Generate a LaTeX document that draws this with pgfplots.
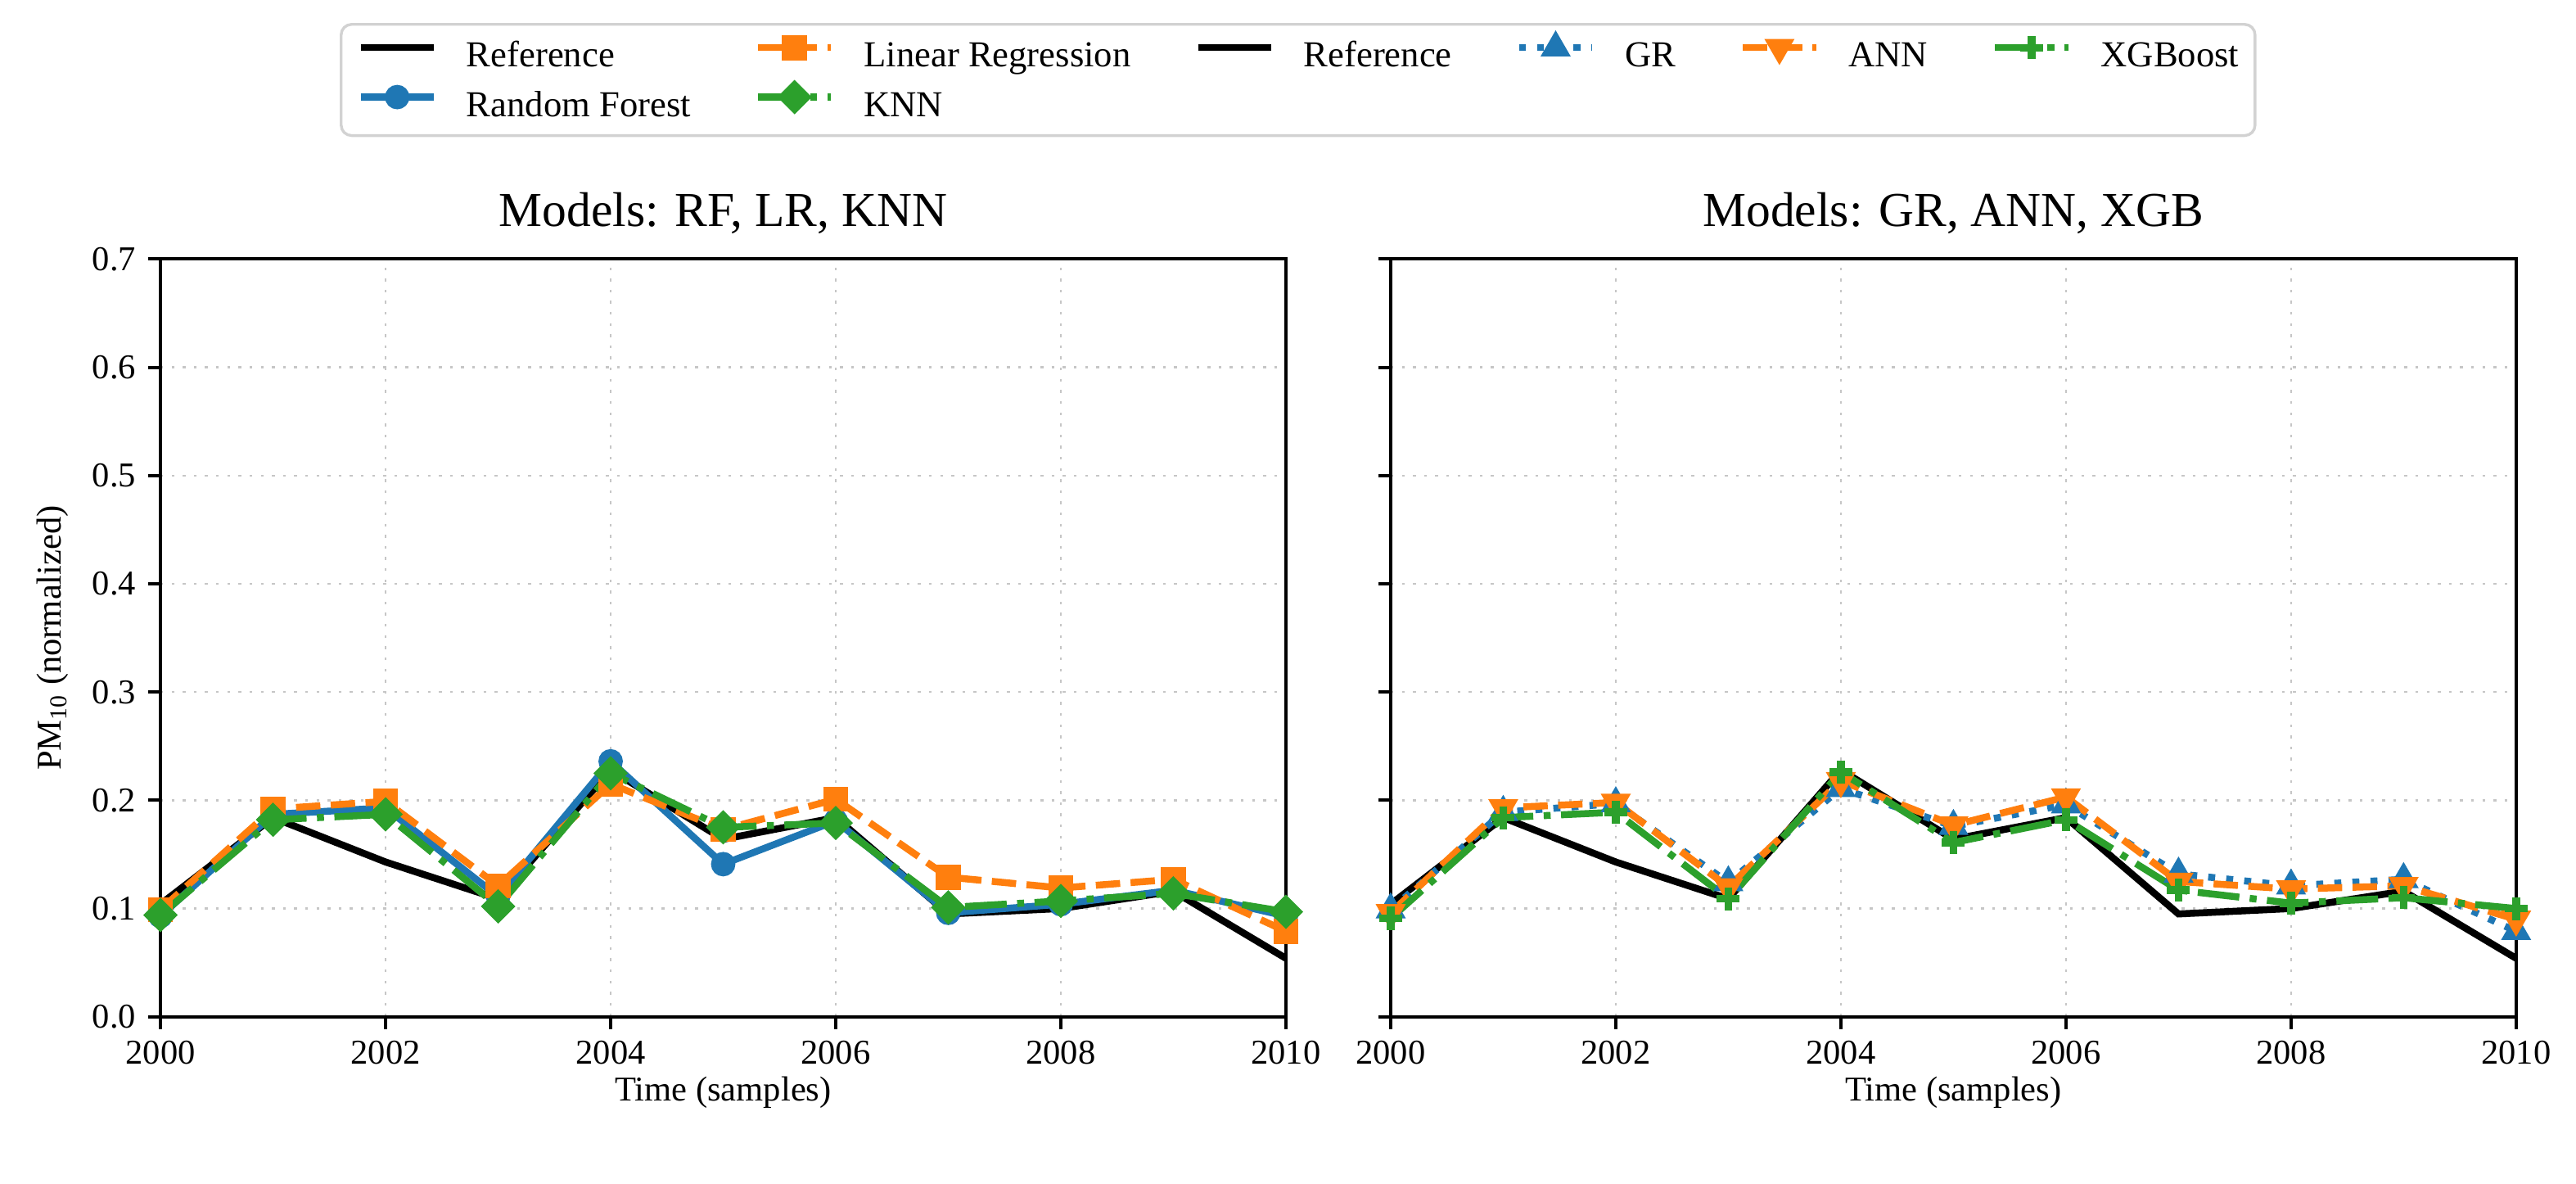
\documentclass[border=0pt]{standalone}
\usepackage{fontspec}
\setmainfont{Liberation Serif}
\usepackage{pgfplots}
\pgfplotsset{compat=1.18}
\usepackage{pgfplotstable}
\definecolor{tabblue}{HTML}{1F77B4}
\definecolor{taborange}{HTML}{FF7F0E}
\definecolor{tabgreen}{HTML}{2CA02C}

\pgfplotstableread{
year  ref    rf     lr     knn    gr     ann    xgb
2000  0.104  0.093  0.099  0.094  0.099  0.096  0.091
2001  0.184  0.187  0.192  0.182  0.189  0.193  0.184
2002  0.143  0.193  0.199  0.187  0.197  0.198  0.189
2003  0.109  0.111  0.121  0.102  0.124  0.120  0.109
2004  0.228  0.236  0.215  0.225  0.211  0.218  0.226
2005  0.164  0.141  0.173  0.175  0.176  0.177  0.161
2006  0.184  0.181  0.201  0.179  0.196  0.203  0.182
2007  0.095  0.096  0.129  0.101  0.132  0.125  0.117
2008  0.100  0.104  0.119  0.107  0.121  0.118  0.105
2009  0.116  0.117  0.127  0.114  0.127  0.121  0.110
2010  0.054  0.093  0.079  0.097  0.079  0.090  0.100
}\data

\tikzset{
  refst/.style={black, line width=2pt},
  rfst/.style={tabblue, line width=2pt, mark=*, mark size=2.5pt, mark options={solid}},
  lrst/.style={taborange, line width=2pt, dash pattern=on 7pt off 3pt, mark=square*, mark size=2.6pt, mark options={solid}},
  knnst/.style={tabgreen, line width=2pt, dash pattern=on 12pt off 3pt on 2pt off 3pt, mark=square*, mark size=2.5pt, mark options={solid, rotate=45}},
  grst/.style={tabblue, line width=2pt, dash pattern=on 2pt off 3.2pt, mark=triangle*, mark size=3pt, mark options={solid}},
  annst/.style={taborange, line width=2pt, dash pattern=on 7pt off 3pt, mark=triangle*, mark size=3pt, mark options={solid, rotate=180}},
  xgbst/.style={tabgreen, line width=2pt, dash pattern=on 12pt off 3pt on 2pt off 3pt, mark=+, mark size=3.3pt, mark options={solid, line width=2.2pt}},
}

\pgfplotsset{
  myaxis/.style={
    scale only axis, width=323.3pt, height=217.6pt,
    xmin=2000, xmax=2010, ymin=0, ymax=0.7,
    xtick={2000,2002,...,2010},
    ytick={0,0.1,...,0.7},
    axis line style={line width=0.9pt},
    tick style={line width=0.9pt, black},
    tick align=outside, tick pos=left,
    major tick length=3.5pt,
    grid=major,
    major grid style={gray!45, line width=0.6pt, dash pattern=on 0.8pt off 2.4pt},
    /pgf/number format/assume math mode=true,
    xticklabel style={/pgf/number format/1000 sep={}},
    yticklabel style={/pgf/number format/fixed, /pgf/number format/fixed zerofill, /pgf/number format/precision=1},
    tick label style={font=\fontsize{10}{12}\selectfont},
    label style={font=\fontsize{10}{12}\selectfont},
    xlabel style={yshift=3.5pt},
    title style={font=\fontsize{14}{17}\selectfont, anchor=base, at={(0.5,1)}, yshift=3.5pt},
    xlabel={Time (samples)},
  }
}

\begin{document}
\begin{tikzpicture}
\path[use as bounding box] (0,0) rectangle (740pt,340pt);
\begin{axis}[myaxis, at={(46.1pt,48pt)}, anchor=south west,
  title={Models: RF, LR, KNN},
  ylabel={PM\textsubscript{10} (normalized)},
  legend columns=6,
  legend cell align=left,
  legend style={at={(0.1593,1.3116)}, anchor=north west, draw=gray!35, line width=0.8pt, rounded corners=3pt,
    font=\fontsize{10.5}{12}\selectfont,
    nodes={inner sep=0pt, text height=7.2pt, text depth=2.1pt},
    /tikz/every odd column/.append style={column sep=8.4pt},
    /tikz/every even column/.append style={column sep=18.3pt},
    /tikz/row sep=3pt,
    inner xsep=4.6pt, inner ysep=3.4pt},
  legend image code/.code={\draw[mark repeat=2,mark phase=2,#1] plot coordinates {(0pt,3pt) (10.5pt,3pt) (21pt,3pt)};},
]
\addlegendimage{refst}\addlegendentry{Reference}
\addlegendimage{lrst}\addlegendentry{Linear Regression}
\addlegendimage{refst}\addlegendentry{Reference}
\addlegendimage{grst}\addlegendentry{GR}
\addlegendimage{annst}\addlegendentry{ANN}
\addlegendimage{xgbst}\addlegendentry{XGBoost}
\addlegendimage{rfst}\addlegendentry{Random Forest}
\addlegendimage{knnst}\addlegendentry{KNN}
\addplot[refst, forget plot] table[x=year, y=ref] {\data};
\addplot[rfst, forget plot] table[x=year, y=rf] {\data};
\addplot[lrst, forget plot] table[x=year, y=lr] {\data};
\addplot[knnst, forget plot] table[x=year, y=knn] {\data};
\end{axis}
\begin{axis}[myaxis, at={(399.5pt,48pt)}, anchor=south west,
  title={Models: GR, ANN, XGB},
  yticklabels={},
]
\addplot[refst] table[x=year, y=ref] {\data};
\addplot[grst] table[x=year, y=gr] {\data};
\addplot[annst] table[x=year, y=ann] {\data};
\addplot[xgbst] table[x=year, y=xgb] {\data};
\end{axis}
\end{tikzpicture}
\end{document}
